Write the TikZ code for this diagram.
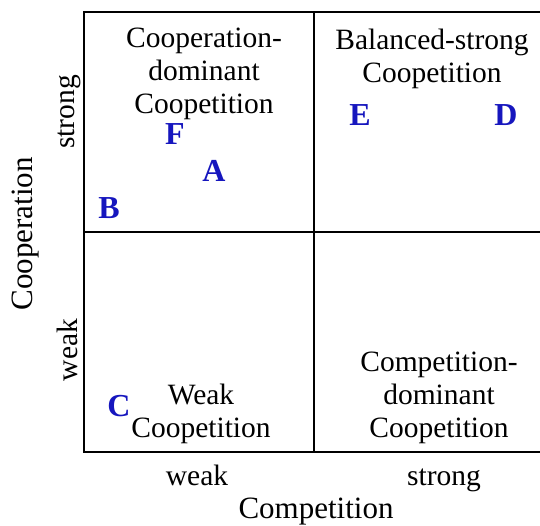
\documentclass[tikz,border=0pt]{standalone}
\usepackage{fontspec}
\setmainfont{Liberation Serif}
\definecolor{ptblue}{RGB}{22,22,190}
\begin{document}
\begin{tikzpicture}[x=1pt,y=-1pt,
  quad/.style={align=center,anchor=base,inner sep=0pt,font=\fontsize{29.5}{33}\selectfont},
  pt/.style={anchor=center,inner sep=0pt,text=ptblue,font=\fontsize{32}{34}\selectfont\bfseries},
  axl/.style={anchor=base,inner sep=0pt,font=\fontsize{29.5}{33}\selectfont},
  axt/.style={anchor=base,inner sep=0pt,font=\fontsize{31}{34}\selectfont},
  gridline/.style={line width=1.8pt,black}]
\useasboundingbox (0,0) rectangle (540,525);
% grid
\coordinate (tl) at (84,12);
\coordinate (bl) at (84,452);
\coordinate (tr) at (540,12);
\coordinate (br) at (540,452);
\coordinate (mt) at (314,12);
\coordinate (mb) at (314,452);
\coordinate (ml) at (84,232);
\coordinate (mr) at (540,232);
\draw[gridline] (tr) -- (tl) -- (bl) -- (br);
\draw[gridline] (mt) -- (mb);
\draw[gridline] (ml) -- (mr);
% quadrant labels (anchor = baseline of last line)
\node[quad] (q1) at (204,113) {Cooperation-\\dominant\\Coopetition};
\node[quad] (q2) at (432,82) {Balanced-strong\\Coopetition};
\node[quad] (q3) at (201,437) {Weak\\Coopetition};
\node[quad] (q4) at (439,437) {Competition-\\dominant\\Coopetition};
% points
\node[pt] (F) at (175,134) {F};
\node[pt] (A) at (214,171) {A};
\node[pt] (B) at (109,208) {B};
\node[pt] (E) at (360,115) {E};
\node[pt] (D) at (506,115) {D};
\node[pt] (C) at (119,406) {C};
% axis labels
\node[axl] (xw) at (197,485) {weak};
\node[axl] (xs) at (444,485) {strong};
\node[axt] (xt) at (316,518) {Competition};
\node[axl,rotate=90] (ys) at (74,112) {strong};
\node[axl,rotate=90] (yw) at (77,350) {weak};
\node[axt,rotate=90] (yt) at (32,234) {Cooperation};
\end{tikzpicture}
\end{document}
